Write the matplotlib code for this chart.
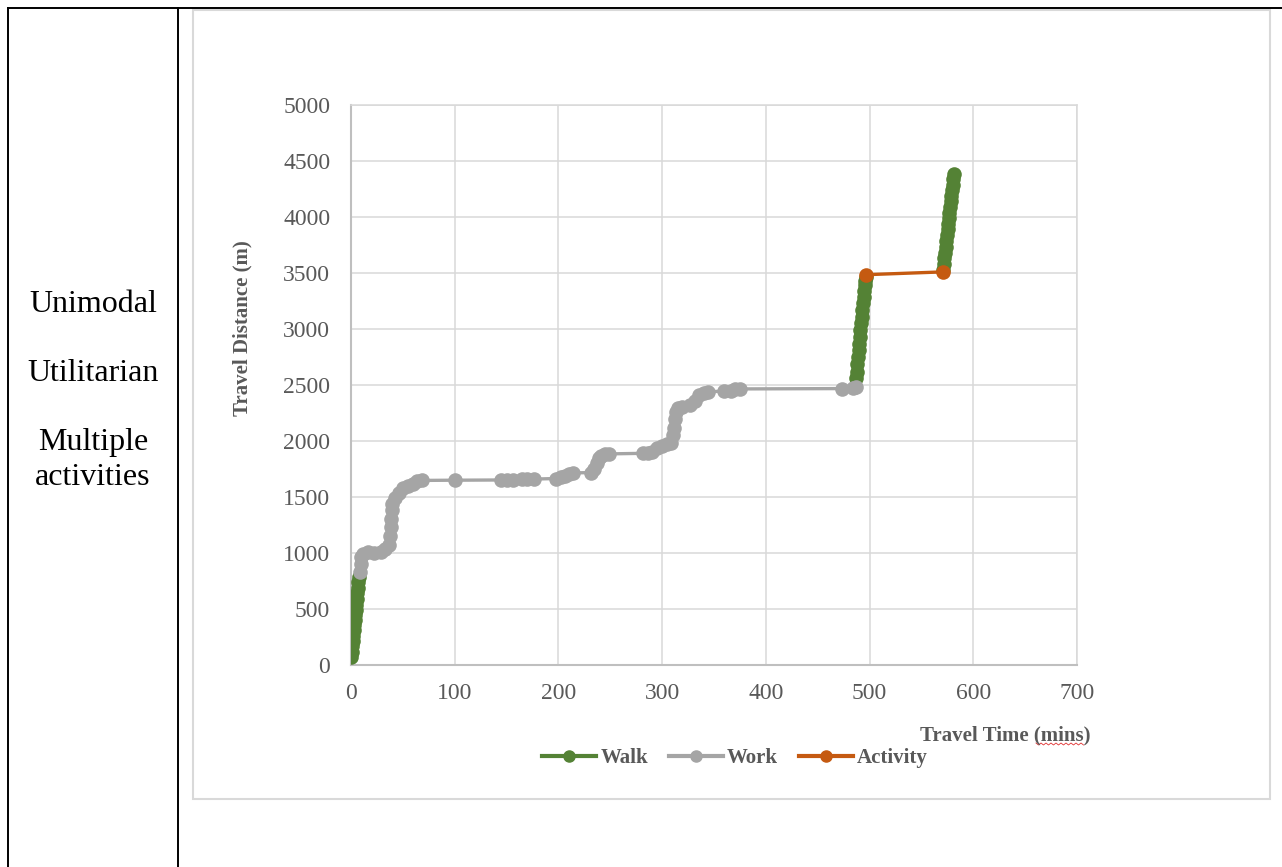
import numpy as np
import matplotlib
matplotlib.use('Agg')
import matplotlib.pyplot as plt
from matplotlib.lines import Line2D
from matplotlib.patches import Rectangle

plt.rcParams['font.family'] = ['Liberation Serif', 'DejaVu Serif']

# ---- data: travel time (mins) vs cumulative travel distance (m) ----
# walk legs, separated by nan so they are not joined
walk_time = [0.0, 0.6, 1.1, 1.5, 2.0, 2.6, 3.1, 3.5, 4.0, 4.6, 5.1, 5.6, 6.1, 6.6, 7.2, 7.8,
             np.nan,
             487, 487.6, 488.2, 488.8, 489.4, 490, 490.6, 491.2, 491.8, 492.4, 493, 493.6,
             494.2, 494.8, 495.4, 496, 496.6,
             np.nan,
             571, 571.6, 572.2, 572.8, 573.4, 574, 574.6, 575.2, 575.8, 576.4, 577, 577.6,
             578.2, 578.8, 579.4, 580, 580.6, 581.2]
walk_dist = [75, 120, 170, 215, 260, 310, 355, 400, 445, 490, 540, 590, 640, 690, 740, 790,
             np.nan,
             2560, 2620, 2690, 2750, 2810, 2870, 2930, 2990, 3050, 3110, 3170, 3230,
             3290, 3340, 3390, 3430, 3460,
             np.nan,
             3530, 3580, 3630, 3680, 3730, 3790, 3840, 3890, 3940, 3990, 4040, 4090,
             4140, 4190, 4240, 4290, 4340, 4385]

work_time = [8.5, 9.5, 10, 12, 16, 22, 29, 33, 37, 38, 38.5, 39, 39.5, 40, 42, 46, 50, 55,
             60, 64, 68, 100, 145, 150, 156, 165, 170, 176, 198, 202, 206, 210, 214, 231,
             234, 237, 239, 241, 245, 249, 282, 286, 290, 295, 300, 305, 309, 310, 311, 312,
             313, 315, 319, 327, 332, 336, 340, 344, 360, 366, 370, 375, 473, 484, 487]
work_dist = [830, 900, 960, 990, 1005, 1000, 1010, 1040, 1075, 1150, 1230, 1300, 1380, 1440,
             1490, 1540, 1580, 1600, 1620, 1640, 1648, 1650, 1652, 1655, 1655, 1660, 1660,
             1660, 1665, 1675, 1690, 1705, 1715, 1718, 1750, 1800, 1845, 1870, 1880, 1885,
             1890, 1893, 1900, 1935, 1955, 1970, 1985, 2050, 2120, 2200, 2260, 2295, 2305,
             2320, 2360, 2410, 2430, 2440, 2445, 2450, 2460, 2465, 2468, 2472, 2480]

activity_time = [497, 571]
activity_dist = [3485, 3510]

series = [
    ('Walk', walk_time, walk_dist, '#548235'),
    ('Work', work_time, work_dist, '#A5A5A5'),
    ('Activity', activity_time, activity_dist, '#C55A11'),
]

x_ticks = [0, 100, 200, 300, 400, 500, 600, 700]
y_ticks = [0, 500, 1000, 1500, 2000, 2500, 3000, 3500, 4000, 4500, 5000]

row_labels = ['Unimodal', 'Utilitarian', 'Multiple\nactivities']

W, H = 1282, 867
fig = plt.figure(figsize=(W / 100, H / 100), dpi=100)

def fx(px):
    return px / W

def fy(py):
    return 1 - py / H

# table borders
black = dict(color='black', lw=1.4, transform=fig.transFigure)
fig.add_artist(Line2D([fx(8), fx(8)], [0, fy(8)], **black))
fig.add_artist(Line2D([fx(178), fx(178)], [0, fy(8)], **black))
fig.add_artist(Line2D([fx(8), 1], [fy(8), fy(8)], **black))

# chart area frame
fig.add_artist(Rectangle((fx(193), fy(799)), fx(1270) - fx(193), fy(10) - fy(799),
                         fill=False, ec='#D9D9D9', lw=1.5, transform=fig.transFigure))

# left column text
fig.text(fx(93), fy(305), row_labels[0], ha='center', va='center', fontsize=23)
fig.text(fx(93), fy(373), row_labels[1], ha='center', va='center', fontsize=23)
fig.text(fx(93), fy(460), row_labels[2], ha='center', va='center', fontsize=23,
         linespacing=1.3)

ax = fig.add_axes([fx(351), fy(665), fx(1077) - fx(351), fy(105) - fy(665)])

for name, t, d, c in series:
    ax.plot(t, d, color=c, lw=2.4, marker='o', markersize=10.5, markeredgewidth=0,
            solid_capstyle='round', zorder=3)

ax.set_xlim(0, 700)
ax.set_ylim(0, 5000)
ax.set_xticks(x_ticks)
ax.set_yticks(y_ticks)
ax.grid(True, color='#D9D9D9', lw=1.1)
ax.set_axisbelow(True)
for side in ['top', 'right']:
    ax.spines[side].set_color('#D9D9D9')
    ax.spines[side].set_linewidth(1.1)
for side in ['bottom', 'left']:
    ax.spines[side].set_color('#BFBFBF')
    ax.spines[side].set_linewidth(1.5)
ax.tick_params(axis='both', length=0, labelsize=17, labelcolor='#595959')
ax.tick_params(axis='y', pad=15)
ax.tick_params(axis='x', pad=13)

# axis titles
fig.text(fx(242), fy(328), 'Travel Distance (m)', rotation=90, ha='center', va='center',
         fontsize=15, fontweight='bold', color='#595959')
fig.text(fx(1090), fy(735), 'Travel Time (mins)', ha='right', va='center',
         fontsize=15, fontweight='bold', color='#595959')
# spell-check squiggle under "mins"
zx = np.arange(1036, 1086, 2.5)
zy = np.where(np.arange(len(zx)) % 2 == 0, 743, 745)
fig.add_artist(Line2D(fx(zx), fy(zy), color='#E03030', lw=0.6, transform=fig.transFigure))

handles = [Line2D([], [], color=c, lw=3, marker='o', markersize=8) for _, _, _, c in series]
labels = [s[0] for s in series]
leg = fig.legend(handles, labels, loc='center', bbox_to_anchor=(fx(735), fy(758)), ncol=3,
                 frameon=False, handlelength=2.6, handletextpad=0.2, columnspacing=1.0,
                 prop={'size': 15, 'weight': 'bold'})
for txt in leg.get_texts():
    txt.set_color('#595959')

fig.savefig('out.png', dpi=100)
